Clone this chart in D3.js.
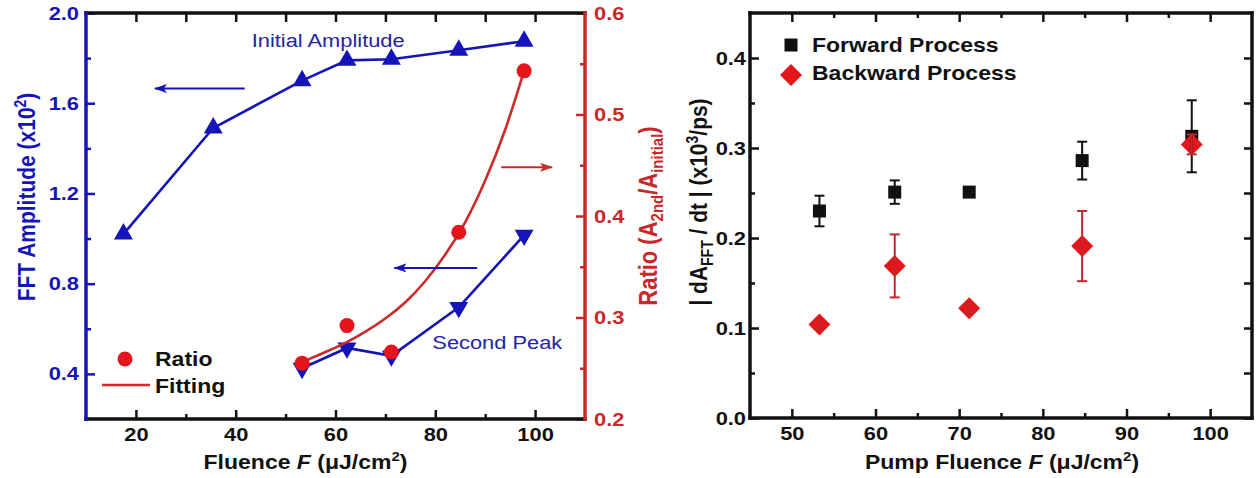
<!DOCTYPE html>
<html>
<head>
<meta charset="UTF-8">
<script src="https://cdnjs.cloudflare.com/ajax/libs/d3/7.8.5/d3.min.js"></script>
<style>
    body { margin: 0; background: #fff; }
    svg text { font-family: Arial, "Liberation Sans", sans-serif; }
</style>
</head>
<body>
<svg id="fig" width="1257" height="478"></svg>
<script>
// ---- left panel: FFT amplitudes and ratio vs fluence ----
var fluence     = [17.5, 35.5, 53.3, 62.3, 71.2, 84.7, 97.8];
var initialAmp  = [1.02, 1.49, 1.70, 1.79, 1.795, 1.835, 1.875];
var peakFluence = [53.3, 62.3, 71.2, 84.7, 97.8];
var secondPeak  = [0.425, 0.515, 0.48, 0.695, 1.015];
var ratio       = [0.255, 0.292, 0.266, 0.384, 0.543];
var fitFluence  = [53.3, 58, 62, 66, 70, 74, 78, 82, 86, 90, 94, 97.8];
var fitRatio    = [0.256, 0.266, 0.275, 0.286, 0.299, 0.315, 0.336, 0.362, 0.394, 0.435, 0.485, 0.543];

var fluenceMajor = [20, 40, 60, 80, 100];
var fluenceMinor = [30, 50, 70, 90];
var fluenceTop   = [20, 30, 40, 50, 60, 70, 80, 90, 100];
var ampMajor     = [0.4, 0.8, 1.2, 1.6, 2.0];
var ampMinor     = [0.6, 1.0, 1.4, 1.8];
var ratioMajor   = [0.2, 0.3, 0.4, 0.5, 0.6];
var ratioMinor   = [0.25, 0.35, 0.45, 0.55];

// ---- right panel: rates of forward / backward process ----
var pumpFluence  = [53.3, 62.3, 71.2, 84.7, 97.8];
var forwardRate  = [0.230, 0.251, 0.251, 0.286, 0.313];
var forwardErr   = [0.017, 0.013, 0.004, 0.021, 0.040];
var backwardRate = [0.104, 0.169, 0.122, 0.191, 0.304];
var backwardErr  = [0.005, 0.035, 0.005, 0.039, 0.011];

var pumpMajor = [50, 60, 70, 80, 90, 100];
var pumpMinor = [55, 65, 75, 85, 95];
var rateMajor = [0.0, 0.1, 0.2, 0.3, 0.4];
var rateMinor = [0.05, 0.15, 0.25, 0.35];

var BLUE = "#1414b8", BLUE_TXT = "#24249e",
    RED = "#e3161c", RED_LINE = "#cc2a2a", RED_AXIS = "#c82828",
    INK = "#111";
var SX = 1.15;   // glyphs are a bit wide in this figure

var svg = d3.select("#fig");

function label(g, x, y, size, weight, fill, anchor, rot) {
    return g.append("text")
        .attr("transform", `translate(${x},${y}) scale(${SX},1)` + (rot ? ` rotate(${rot})` : ""))
        .attr("font-size", size)
        .attr("font-weight", weight)
        .attr("fill", fill)
        .attr("text-anchor", anchor || "start");
}
function part(t, s, size, dy, style) {
    var ts = t.append("tspan").text(s);
    if (size) ts.attr("font-size", size);
    if (dy) ts.attr("dy", dy);
    if (style) ts.attr("font-style", style);
    return ts;
}

function axis(g, gen, scale, values, len, fmt, color, pad) {
    g.call(gen(scale)
        .tickValues(values)
        .tickSizeInner(-len)
        .tickSizeOuter(0)
        .tickPadding(pad || 0)
        .tickFormat(fmt || (() => "")));
    g.select(".domain").remove();
    g.selectAll(".tick line").attr("stroke", color).attr("stroke-width", 2.5);
    g.selectAll(".tick text")
        .attr("fill", color)
        .attr("font-size", 19)
        .attr("font-weight", "bold")
        .attr("font-family", null)
        .each(function() {
            var t = d3.select(this);
            t.attr("x", (+t.attr("x") || 0) / SX).attr("transform", `scale(${SX},1)`);
        });
}

function frameLine(g, x1, y1, x2, y2, color) {
    g.append("line")
        .attr("x1", x1).attr("y1", y1).attr("x2", x2).attr("y2", y2)
        .attr("stroke", color).attr("stroke-width", 3.5)
        .attr("stroke-linecap", "square");
}

// arrow heads
var defs = svg.append("defs");
[["headBlue", BLUE], ["headRed", RED_LINE]].forEach(function(h) {
    defs.append("marker")
        .attr("id", h[0])
        .attr("markerUnits", "userSpaceOnUse")
        .attr("markerWidth", 13).attr("markerHeight", 9)
        .attr("refX", 12).attr("refY", 4.5)
        .attr("orient", "auto")
        .append("path")
        .attr("d", "M0,0 L13,4.5 L0,9 L3,4.5 Z")
        .attr("fill", h[1]);
});

// ================= LEFT PANEL =================
var L = { x0: 86, x1: 585, y0: 13, y1: 419 };
var xL = d3.scaleLinear().domain([10, 110]).range([L.x0, L.x1]);
var yA = d3.scaleLinear().domain([0.2, 2.0]).range([L.y1, L.y0]);
var yR = d3.scaleLinear().domain([0.2, 0.6]).range([L.y1, L.y0]);

var gl = svg.append("g");

axis(gl.append("g").attr("transform", `translate(0,${L.y1})`), d3.axisBottom, xL, fluenceMajor, 9, d3.format("d"), INK, 9);
axis(gl.append("g").attr("transform", `translate(0,${L.y1})`), d3.axisBottom, xL, fluenceMinor, 5, null, INK);
axis(gl.append("g").attr("transform", `translate(0,${L.y0})`), d3.axisTop, xL, fluenceTop, 9, null, INK);
axis(gl.append("g").attr("transform", `translate(${L.x0},0)`), d3.axisLeft, yA, ampMajor, 9, d3.format(".1f"), BLUE, 7);
axis(gl.append("g").attr("transform", `translate(${L.x0},0)`), d3.axisLeft, yA, ampMinor, 5, null, BLUE);
axis(gl.append("g").attr("transform", `translate(${L.x1},0)`), d3.axisRight, yR, ratioMajor, 9, d3.format(".1f"), RED_AXIS, 9);
axis(gl.append("g").attr("transform", `translate(${L.x1},0)`), d3.axisRight, yR, ratioMinor, 5, null, RED_AXIS);

frameLine(gl, L.x0, L.y0, L.x1, L.y0, INK);
frameLine(gl, L.x0, L.y1, L.x1, L.y1, INK);
frameLine(gl, L.x0, L.y0, L.x0, L.y1, BLUE);
frameLine(gl, L.x1, L.y0, L.x1, L.y1, RED_AXIS);

// connected amplitude series
var ampLine = d3.line().x(d => xL(d[0])).y(d => yA(d[1]));
gl.append("path")
    .attr("d", ampLine(d3.zip(fluence, initialAmp)))
    .attr("fill", "none").attr("stroke", BLUE).attr("stroke-width", 2.6);
gl.append("path")
    .attr("d", ampLine(d3.zip(peakFluence, secondPeak)))
    .attr("fill", "none").attr("stroke", BLUE).attr("stroke-width", 2.6);

var tri = d3.symbol().type(d3.symbolTriangle).size(155);
gl.selectAll(".up")
    .data(d3.zip(fluence, initialAmp))
    .enter().append("path")
    .attr("class", "up")
    .attr("d", tri)
    .attr("transform", d => `translate(${xL(d[0])},${yA(d[1])})`)
    .attr("fill", BLUE);
gl.selectAll(".down")
    .data(d3.zip(peakFluence, secondPeak))
    .enter().append("path")
    .attr("class", "down")
    .attr("d", tri)
    .attr("transform", d => `translate(${xL(d[0])},${yA(d[1])}) rotate(180)`)
    .attr("fill", BLUE);

// ratio and its fit
gl.append("path")
    .attr("d", d3.line().curve(d3.curveNatural)
        .x(d => xL(d[0])).y(d => yR(d[1]))(d3.zip(fitFluence, fitRatio)))
    .attr("fill", "none").attr("stroke", RED_LINE).attr("stroke-width", 2.6);
gl.selectAll(".ratio")
    .data(d3.zip(peakFluence, ratio))
    .enter().append("circle")
    .attr("class", "ratio")
    .attr("cx", d => xL(d[0])).attr("cy", d => yR(d[1]))
    .attr("r", 7.5)
    .attr("fill", RED);

// which axis each series belongs to
function arrow(g, xa, xb, y, head, color) {
    g.append("line")
        .attr("x1", xa).attr("x2", xb).attr("y1", y).attr("y2", y)
        .attr("stroke", color).attr("stroke-width", 2)
        .attr("marker-end", `url(#${head})`);
}
arrow(gl, xL(41.8), xL(23.8), yA(1.665), "headBlue", BLUE);
arrow(gl, xL(88.4), xL(71.8), yA(0.87), "headBlue", BLUE);
arrow(gl, xL(93.2), xL(103.4), yR(0.448), "headRed", RED_LINE);

label(gl, xL(43.2), yA(1.85), 19, "normal", BLUE_TXT).text("Initial Amplitude");
label(gl, xL(79.4), yA(0.51), 19, "normal", BLUE_TXT).text("Second Peak");

// legend
gl.append("circle").attr("cx", 125).attr("cy", 359).attr("r", 7.5).attr("fill", RED);
label(gl, 155, 366, 20, "bold", INK).text("Ratio");
gl.append("line").attr("x1", 102).attr("x2", 150).attr("y1", 385).attr("y2", 385)
    .attr("stroke", RED_LINE).attr("stroke-width", 2.6);
label(gl, 155, 393, 20, "bold", INK).text("Fitting");

// axis titles
var tx = label(gl, (L.x0 + L.x1) / 2 - 30, 469, 20, "bold", INK, "middle");
part(tx, "Fluence ");
part(tx, "F", null, null, "italic");
part(tx, " (\u03bcJ/cm");
part(tx, "2", 13, -8);
part(tx, ")", null, 8);

var ty = label(gl, 35, 197, 21, "bold", BLUE, "middle", -90);
part(ty, "FFT Amplitude (x10");
part(ty, "2", 14, -8);
part(ty, ")", null, 8);

var tr = label(gl, 657, 216, 22, "bold", RED_AXIS, "middle", -90);
part(tr, "Ratio (A");
part(tr, "2nd", 15, 5);
part(tr, "/A", null, -5);
part(tr, "initial", 15, 5);
part(tr, ")", null, -5);

// ================= RIGHT PANEL =================
var R = { x0: 750, x1: 1252, y0: 13, y1: 418 };
var xP = d3.scaleLinear().domain([45, 105]).range([R.x0, R.x1]);
var yP = d3.scaleLinear().domain([0, 0.45]).range([R.y1, R.y0]);

var gr = svg.append("g");

axis(gr.append("g").attr("transform", `translate(0,${R.y1})`), d3.axisBottom, xP, pumpMajor, 9, d3.format("d"), INK, 9);
axis(gr.append("g").attr("transform", `translate(0,${R.y1})`), d3.axisBottom, xP, pumpMinor, 5, null, INK);
axis(gr.append("g").attr("transform", `translate(0,${R.y0})`), d3.axisTop, xP, pumpMajor, 9, null, INK);
axis(gr.append("g").attr("transform", `translate(0,${R.y0})`), d3.axisTop, xP, pumpMinor, 5, null, INK);
axis(gr.append("g").attr("transform", `translate(${R.x0},0)`), d3.axisLeft, yP, rateMajor, 9, d3.format(".1f"), INK, 4);
axis(gr.append("g").attr("transform", `translate(${R.x0},0)`), d3.axisLeft, yP, rateMinor, 5, null, INK);
axis(gr.append("g").attr("transform", `translate(${R.x1},0)`), d3.axisRight, yP, rateMajor, 8, null, INK);
axis(gr.append("g").attr("transform", `translate(${R.x1},0)`), d3.axisRight, yP, rateMinor, 8, null, INK);

frameLine(gr, R.x0, R.y0, R.x1, R.y0, INK);
frameLine(gr, R.x0, R.y1, R.x1, R.y1, INK);
frameLine(gr, R.x0, R.y0, R.x0, R.y1, INK);
frameLine(gr, R.x1, R.y0, R.x1, R.y1, INK);

var diamond = "M0,-11 L11,0 L0,11 L-11,0 Z";

gr.selectAll(".fwd")
    .data(d3.zip(pumpFluence, forwardRate))
    .enter().append("rect")
    .attr("class", "fwd")
    .attr("x", d => xP(d[0]) - 6.5).attr("y", d => yP(d[1]) - 6.5)
    .attr("width", 13).attr("height", 13)
    .attr("fill", INK);
gr.selectAll(".bwd")
    .data(d3.zip(pumpFluence, backwardRate))
    .enter().append("path")
    .attr("class", "bwd")
    .attr("d", diamond)
    .attr("transform", d => `translate(${xP(d[0])},${yP(d[1])})`)
    .attr("fill", RED);

function errorBars(g, xs, ys, es, color) {
    var bars = g.selectAll(null)
        .data(d3.zip(xs, ys, es))
        .enter().append("g")
        .attr("stroke", color).attr("stroke-width", 2);
    bars.append("line")
        .attr("x1", d => xP(d[0])).attr("x2", d => xP(d[0]))
        .attr("y1", d => yP(d[1] - d[2])).attr("y2", d => yP(d[1] + d[2]));
    bars.append("line")
        .attr("x1", d => xP(d[0]) - 5).attr("x2", d => xP(d[0]) + 5)
        .attr("y1", d => yP(d[1] + d[2])).attr("y2", d => yP(d[1] + d[2]));
    bars.append("line")
        .attr("x1", d => xP(d[0]) - 5).attr("x2", d => xP(d[0]) + 5)
        .attr("y1", d => yP(d[1] - d[2])).attr("y2", d => yP(d[1] - d[2]));
}
errorBars(gr, pumpFluence, forwardRate, forwardErr, INK);
errorBars(gr, pumpFluence, backwardRate, backwardErr, "#c4262c");

// legend
gr.append("rect").attr("x", 784.5).attr("y", 38.5).attr("width", 13).attr("height", 13).attr("fill", INK);
label(gr, 812, 52, 20, "bold", INK).text("Forward Process");
gr.append("path").attr("d", diamond).attr("transform", "translate(791,75)").attr("fill", RED);
label(gr, 812, 80, 20, "bold", INK).text("Backward Process");

// axis titles
var px = label(gr, 1002, 469, 20, "bold", INK, "middle");
part(px, "Pump Fluence ");
part(px, "F", null, null, "italic");
part(px, " (\u03bcJ/cm");
part(px, "2", 13, -8);
part(px, ")", null, 8);

var py = label(gr, 707, 202, 21, "bold", INK, "middle", -90);
part(py, "| dA");
part(py, "FFT", 14, 5);
part(py, " / dt | (x10", null, -5);
part(py, "3", 14, -8);
part(py, "/ps)", null, 8);
</script>
</body>
</html>
